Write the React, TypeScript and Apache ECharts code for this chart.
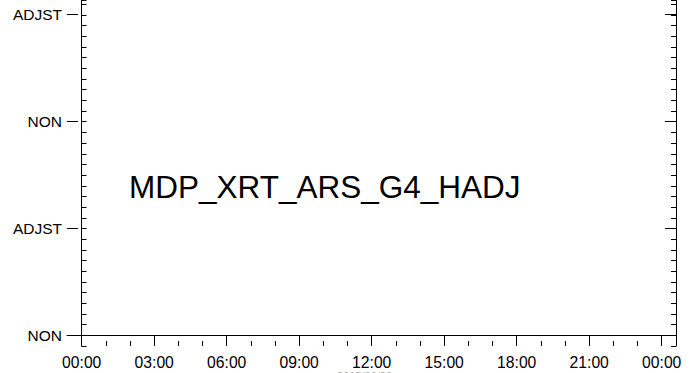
import React, { useEffect, useRef } from "react";
import * as echarts from "echarts";

// Data
const xTickLabels = ["00:00", "03:00", "06:00", "09:00", "12:00", "15:00", "18:00", "21:00", "00:00"];
const yTickLabels = ["NON", "ADJST", "NON", "ADJST"];
const hoursMin = 0;
const hoursMax = 24;
const xFrame = [-0.6, 24.6];
const yFrame = [-0.1, 3.14];
const seriesValues: [number, number][] = [];
const titleText = "MDP_XRT_ARS_G4_HADJ";
const dateText = "2015/06/23";

const FONT = "Liberation Sans, Arial, Helvetica, sans-serif";

export default function App() {
  const ref = useRef<HTMLDivElement>(null);
  useEffect(() => {
    document.body.style.margin = "0";
    const chart = echarts.init(ref.current!, null, { renderer: "svg" });
    const line = { show: true, lineStyle: { color: "#000", width: 1 } };
    const hidden = { show: false };
    chart.setOption({
      animation: false,
      grid: [
        { left: 67, top: 0, width: 609, height: 346 },
        { left: 81.7, top: 0, width: 580, height: 346 },
        { left: 81.7, top: 0, width: 580, height: 346 },
        { left: 67, top: 14.7, width: 609, height: 321 },
      ],
      xAxis: [
        {
          gridIndex: 0, type: "value", min: xFrame[0], max: xFrame[1], position: "bottom",
          axisLine: line, axisTick: { show: false }, axisLabel: { show: false }, splitLine: { show: false },
        },
        {
          gridIndex: 1, type: "value", min: hoursMin, max: hoursMax, interval: 1, position: "bottom",
          axisLine: { show: false }, axisTick: { show: true, inside: true, length: 5, lineStyle: { color: "#000" } },
          axisLabel: { show: false }, splitLine: { show: false },
        },
        {
          gridIndex: 2, type: "value", min: hoursMin, max: hoursMax, interval: 3, position: "bottom",
          axisLine: { show: false }, axisTick: { show: true, inside: true, length: 11, lineStyle: { color: "#000" } },
          axisLabel: {
            show: true, margin: 8, fontSize: 15.7, fontFamily: FONT, color: "#000",
            formatter: (v: number) => xTickLabels[Math.round(v / 3)] ?? "",
          },
          splitLine: { show: false },
        },
        { gridIndex: 3, type: "value", min: 0, max: 1, ...hidden },
      ],
      yAxis: [
        {
          gridIndex: 0, type: "value", min: yFrame[0], max: yFrame[1], interval: 0.1, position: "left",
          axisLine: line, axisTick: { show: true, inside: true, length: 5, lineStyle: { color: "#000" } },
          axisLabel: { show: false }, splitLine: { show: false },
        },
        {
          gridIndex: 0, type: "value", min: yFrame[0], max: yFrame[1], interval: 0.1, position: "right",
          axisLine: line, axisTick: { show: true, inside: true, length: 5, lineStyle: { color: "#000" } },
          axisLabel: { show: false }, splitLine: { show: false },
        },
        { gridIndex: 1, type: "value", min: 0, max: 1, ...hidden },
        { gridIndex: 2, type: "value", min: 0, max: 1, ...hidden },
        {
          gridIndex: 3, type: "value", min: 0, max: 3, interval: 1, position: "left",
          axisLine: { show: false }, axisTick: { show: true, inside: true, length: 11, lineStyle: { color: "#000" } },
          axisLabel: {
            show: true, margin: 5, fontSize: 15.5, fontFamily: FONT, color: "#000",
            formatter: (v: number) => yTickLabels[Math.round(v)] ?? "",
          },
          splitLine: { show: false },
        },
        {
          gridIndex: 3, type: "value", min: 0, max: 3, interval: 1, position: "right",
          axisLine: { show: false }, axisTick: { show: true, inside: true, length: 11, lineStyle: { color: "#000" } },
          axisLabel: { show: false }, splitLine: { show: false },
        },
      ],
      series: [
        { type: "line", xAxisIndex: 0, yAxisIndex: 0, data: seriesValues, symbol: "none" },
      ],
      graphic: [
        {
          type: "text", left: 129, top: 171,
          style: { text: titleText, fontSize: 31.5, fontFamily: FONT, fill: "#000" },
        },
        {
          type: "text", left: 337, top: 370,
          style: { text: dateText, fontSize: 11, fontFamily: FONT, fill: "#aaa" },
        },
      ],
    });
    return () => chart.dispose();
  }, []);
  return <div ref={ref} style={{ position: "absolute", left: 0, top: 0, width: 699, height: 373 }} />;
}
